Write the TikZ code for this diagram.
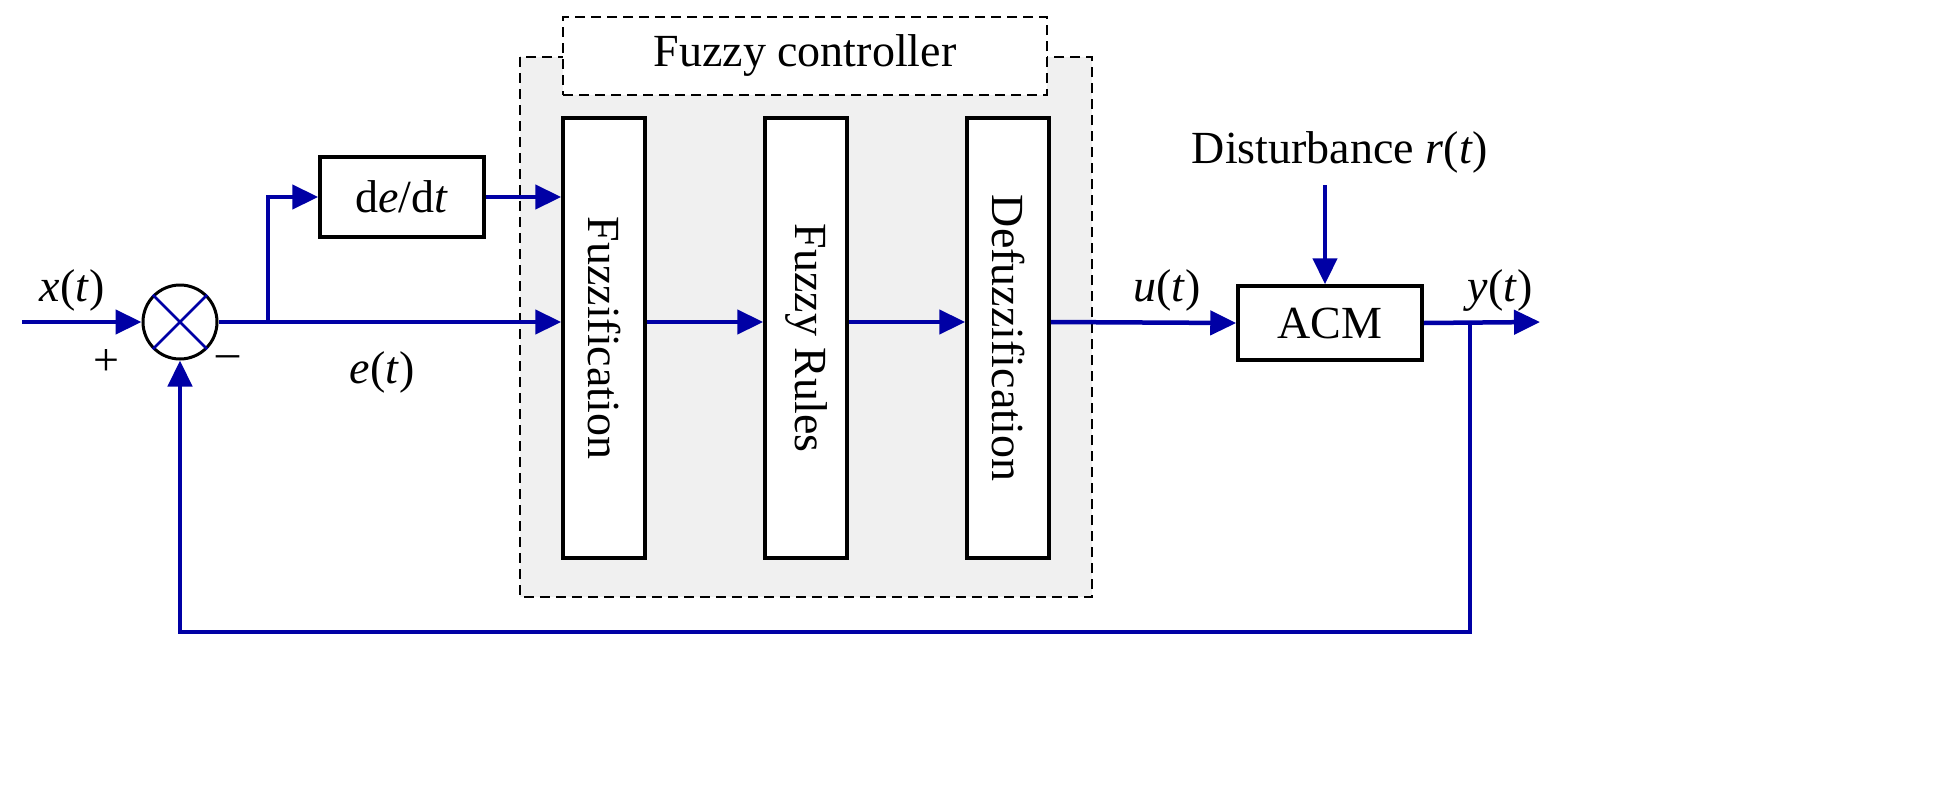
\documentclass[tikz,border=0pt]{standalone}
\usepackage{fontspec}
\setmainfont{Liberation Serif}
\usetikzlibrary{arrows.meta}
\definecolor{sig}{RGB}{0,0,165}
\begin{document}
\begin{tikzpicture}[x=0.5pt,y=-0.5pt,
  txt/.style={font=\fontsize{23}{25}\selectfont},
  blk/.style={draw=black,line width=1.75pt,fill=white,inner sep=0pt},
  sg/.style={draw=sig,line width=2.25pt,-{Triangle[length=13pt,width=12pt]}},
  sl/.style={draw=sig,line width=2.25pt}]
\useasboundingbox (0,0) rectangle (1949,798);
\fill[gray!12] (520,57) rectangle (1092,597);
\draw[dashed,line width=1.25pt,dash pattern=on 5pt off 3pt] (520,57) rectangle (1092,597);
\node[draw,line width=1.25pt,dash pattern=on 5pt off 3pt,fill=white,minimum width=242pt,minimum height=39pt,txt] (fc) at (805,56) {Fuzzy controller};
\node[blk,minimum width=41pt,minimum height=220pt] (f1) at (604,338) {};
\node[txt,rotate=-90] at (f1) {Fuzzification};
\node[blk,minimum width=41pt,minimum height=220pt] (f2) at (806,338) {};
\node[txt,rotate=-90] at (f2) {Fuzzy Rules};
\node[blk,minimum width=41pt,minimum height=220pt] (f3) at (1008,338) {};
\node[txt,rotate=-90] at (f3) {Defuzzification};
\node[blk,minimum width=82pt,minimum height=40pt,txt] (dd) at (402,197) {d\textit{e}/d\textit{t}};
\node[blk,minimum width=92pt,minimum height=37pt,txt] (acm) at (1330,323) {ACM};
\node[draw=black,line width=1.5pt,circle,minimum size=37pt,inner sep=0pt] (sum) at (180,322) {};
\draw[sig,line width=1.25pt] (sum.45)--(sum.225) (sum.135)--(sum.315);
\coordinate (in) at (22,322);
\coordinate (br) at (268,322);
\coordinate (out) at (1540,322);
\coordinate (fb) at (1470,322);
\coordinate (dist) at (1325,185);
\draw[sg] (in)--(sum.west);
\draw[sl] (sum.east)--(br);
\draw[sg] (br)--(f1.west|-br);
\draw[sg] (br)|-(dd.west);
\draw[sg] (dd.east)--(f1.west|-dd);
\draw[sg] (f1.east|-br)--(f2.west|-br);
\draw[sg] (f2.east|-br)--(f3.west|-br);
\draw[sg] (f3.east|-br)--(acm.west);
\draw[sg] (acm.east)--(out);
\draw[sg] (fb)--(1470,632)-|(sum.south);
\draw[sg] (dist)--(dist|-acm.north);
\node[txt] at (1340,152) {Disturbance \textit{r}(\textit{t})};
\node[txt] at (72,290) {\textit{x}(\textit{t})};
\node[txt] at (106,362) {+};
\node[txt] at (228,362) {\textendash};
\node[txt] at (382,372) {\textit{e}(\textit{t})};
\node[txt] at (1167,290) {\textit{u}(\textit{t})};
\node[txt] at (1500,290) {\textit{y}(\textit{t})};
\end{tikzpicture}
\end{document}
